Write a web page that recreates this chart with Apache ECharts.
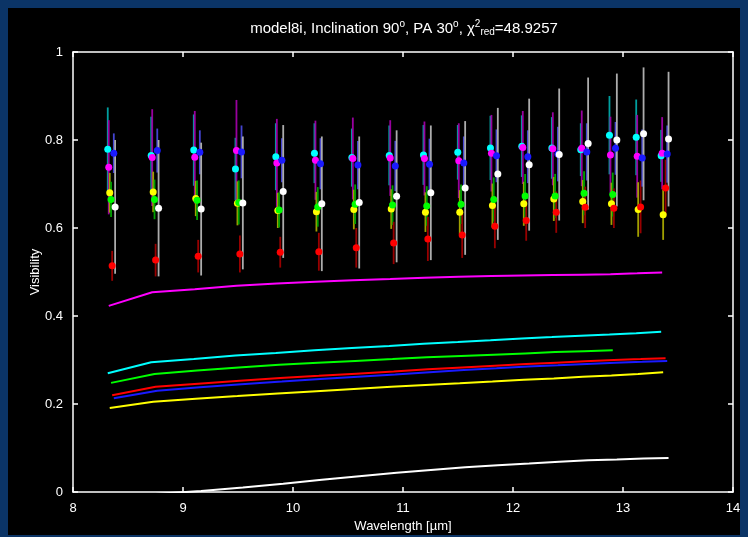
<!DOCTYPE html>
<html>
<head>
<meta charset="utf-8">
<script src="https://cdn.jsdelivr.net/npm/echarts@6/dist/echarts.min.js"></script>
<style>
  html, body { margin: 0; padding: 0; background: #0b3466; width: 748px; height: 537px; overflow: hidden; }
  #c { position: absolute; left: 8px; top: 8px; width: 732px; height: 527px; background: #000; }
</style>
</head>
<body>
<div id="c"></div>
<script>
// ---- data ----
const wavelengths = [8.316, 8.711, 9.098, 9.477, 9.844, 10.195, 10.535, 10.875, 11.186, 11.498, 11.795, 12.080, 12.353, 12.616, 12.877, 13.120, 13.347];
const xTicks = [8, 9, 10, 11, 12, 13, 14];
const yTicks = [0, 0.2, 0.4, 0.6, 0.8, 1];

// per-baseline wavelength offsets (plot staggering, in µm)
const offCyan = 0, offMagenta = 0.009, offYellow = 0.018, offGreen = 0.03, offRed = 0.04, offBlue = 0.055, offWhite = 0.067;

const visCyan    = [0.779, 0.765, 0.777, 0.734, 0.762, 0.770, 0.760, 0.765, 0.766, 0.772, 0.782, 0.786, 0.782, 0.778, 0.811, 0.806, 0.764];
const errCyan    = [0.095, 0.088, 0.081, 0.071, 0.076, 0.068, 0.066, 0.068, 0.068, 0.062, 0.073, 0.070, 0.070, 0.060, 0.089, 0.086, 0.059];
const visMagenta = [0.738, 0.760, 0.761, 0.776, 0.748, 0.754, 0.758, 0.759, 0.758, 0.753, 0.770, 0.783, 0.780, 0.781, 0.766, 0.763, 0.770];
const errMagenta = [0.107, 0.110, 0.105, 0.115, 0.100, 0.090, 0.093, 0.086, 0.084, 0.085, 0.087, 0.083, 0.083, 0.086, 0.087, 0.094, 0.082];
const visBlue    = [0.770, 0.776, 0.772, 0.773, 0.754, 0.746, 0.743, 0.741, 0.745, 0.748, 0.764, 0.762, 0.768, 0.773, 0.781, 0.759, 0.768];
const errBlue    = [0.045, 0.050, 0.050, 0.060, 0.050, 0.058, 0.055, 0.057, 0.058, 0.060, 0.060, 0.060, 0.062, 0.065, 0.060, 0.065, 0.065];
const visWhite   = [0.648, 0.645, 0.643, 0.657, 0.683, 0.655, 0.658, 0.672, 0.680, 0.691, 0.723, 0.744, 0.767, 0.792, 0.800, 0.814, 0.802];
const errWhite   = [0.152, 0.155, 0.151, 0.151, 0.151, 0.153, 0.150, 0.150, 0.153, 0.152, 0.150, 0.150, 0.150, 0.150, 0.151, 0.151, 0.153];
const visYellow  = [0.680, 0.682, 0.667, 0.656, 0.640, 0.637, 0.642, 0.643, 0.636, 0.636, 0.651, 0.655, 0.666, 0.660, 0.655, 0.642, 0.630];
const errYellow  = [0.045, 0.046, 0.040, 0.050, 0.040, 0.045, 0.045, 0.045, 0.045, 0.050, 0.050, 0.050, 0.050, 0.049, 0.048, 0.062, 0.057];
const visGreen   = [0.665, 0.665, 0.663, 0.658, 0.641, 0.648, 0.654, 0.652, 0.650, 0.654, 0.665, 0.673, 0.673, 0.679, 0.676];
const errGreen   = [0.040, 0.045, 0.045, 0.050, 0.040, 0.045, 0.045, 0.045, 0.045, 0.045, 0.050, 0.050, 0.050, 0.050, 0.050];
const visRed     = [0.514, 0.527, 0.536, 0.541, 0.545, 0.546, 0.555, 0.566, 0.575, 0.584, 0.604, 0.617, 0.636, 0.647, 0.645, 0.648, 0.691];
const errRed     = [0.034, 0.037, 0.037, 0.042, 0.035, 0.043, 0.045, 0.048, 0.050, 0.052, 0.050, 0.046, 0.047, 0.047, 0.045, 0.060, 0.064];

const modelMagenta = [0.423, 0.454, 0.461, 0.469, 0.474, 0.478, 0.481, 0.484, 0.487, 0.489, 0.491, 0.492, 0.493, 0.494, 0.495, 0.497, 0.499];
const modelCyan    = [0.270, 0.295, 0.302, 0.310, 0.316, 0.322, 0.327, 0.332, 0.337, 0.341, 0.345, 0.349, 0.352, 0.355, 0.358, 0.361, 0.364];
const modelGreen   = [0.248, 0.268, 0.276, 0.283, 0.289, 0.294, 0.298, 0.302, 0.306, 0.309, 0.312, 0.315, 0.318, 0.320, 0.322];
const modelRed     = [0.220, 0.239, 0.246, 0.253, 0.259, 0.264, 0.269, 0.274, 0.279, 0.283, 0.287, 0.291, 0.294, 0.297, 0.300, 0.302, 0.304];
const modelBlue    = [0.213, 0.230, 0.238, 0.245, 0.251, 0.257, 0.262, 0.267, 0.272, 0.277, 0.281, 0.285, 0.288, 0.291, 0.294, 0.296, 0.298];
const modelYellow  = [0.191, 0.205, 0.212, 0.218, 0.224, 0.229, 0.234, 0.239, 0.243, 0.247, 0.251, 0.255, 0.258, 0.262, 0.265, 0.268, 0.272];
const modelWhite   = [-0.012, -0.004, 0.002, 0.010, 0.019, 0.028, 0.036, 0.044, 0.050, 0.056, 0.061, 0.065, 0.069, 0.072, 0.074, 0.076, 0.077];

// ---- build ----
const baselines = [
  { name: 'cyan',    color: '#00ffff', bar: '#00a0a0', vis: visCyan,    err: errCyan,    model: modelCyan,    off: offCyan },
  { name: 'magenta', color: '#ff00ff', bar: '#98009e', vis: visMagenta, err: errMagenta, model: modelMagenta, off: offMagenta },
  { name: 'yellow',  color: '#ffff00', bar: '#a0a000', vis: visYellow,  err: errYellow,  model: modelYellow,  off: offYellow },
  { name: 'green',   color: '#00ff00', bar: '#00a000', vis: visGreen,   err: errGreen,   model: modelGreen,   off: offGreen },
  { name: 'red',     color: '#ff0000', bar: '#980000', vis: visRed,     err: errRed,     model: modelRed,     off: offRed },
  { name: 'blue',    color: '#1a1aff', bar: '#4444d0', vis: visBlue,    err: errBlue,    model: modelBlue,    off: offBlue },
  { name: 'white',   color: '#ffffff', bar: '#acacac', vis: visWhite,   err: errWhite,   model: modelWhite,   off: offWhite }
];

const FONT = 'Liberation Sans, Arial, sans-serif';
const series = [];

baselines.forEach(b => {
  series.push({
    type: 'line', name: b.name + ' model', z: 2,
    data: b.model.map((v, i) => [wavelengths[i] + b.off, v]),
    showSymbol: false, symbol: 'none', silent: true,
    lineStyle: { color: b.color, width: 2 }
  });
});
baselines.forEach(b => {
  series.push({
    type: 'custom', name: b.name + ' err', z: 3, silent: true,
    data: b.vis.map((v, i) => [wavelengths[i] + b.off, v - b.err[i], v + b.err[i]]),
    renderItem: (params, api) => {
      const p1 = api.coord([api.value(0), api.value(1)]);
      const p2 = api.coord([api.value(0), api.value(2)]);
      return { type: 'line', shape: { x1: p1[0], y1: p1[1], x2: p2[0], y2: p2[1] },
               style: { stroke: b.bar, lineWidth: 1.8 } };
    }
  });
});
baselines.forEach(b => {
  series.push({
    type: 'scatter', name: b.name, z: 4, silent: true,
    data: b.vis.map((v, i) => [wavelengths[i] + b.off, v]),
    symbol: 'circle', symbolSize: 7,
    itemStyle: { color: b.color, opacity: 1 }
  });
});

const axisCommon = {
  type: 'value',
  axisLine: { show: true, onZero: false, lineStyle: { color: '#ffffff', width: 1.5 } },
  axisTick: { show: true, inside: true, length: 5, lineStyle: { color: '#ffffff', width: 1.5 } },
  splitLine: { show: false }
};

const chart = echarts.init(document.getElementById('c'), null, { renderer: 'canvas' });
chart.setOption({
  backgroundColor: '#000000',
  animation: false,
  title: {
    text: 'model8i, Inclination 90{sup|o}, PA 30{sup|o}, χ{sup|2}{sub|red}=48.9257',
    left: 391, top: 6, textAlign: 'center',
    textStyle: {
      color: '#ffffff', fontSize: 15, fontWeight: 'normal', fontFamily: FONT,
      rich: {
        sup: { color: '#ffffff', fontSize: 10, fontFamily: FONT, padding: [0, 0, 10, 0] },
        sub: { color: '#ffffff', fontSize: 10, fontFamily: FONT, padding: [7, 0, 0, 0] }
      }
    }
  },
  grid: { left: 65, top: 44, right: 7, bottom: 43, containLabel: false, outerBoundsMode: 'none' },
  xAxis: [
    Object.assign({}, axisCommon, {
      min: xTicks[0], max: xTicks[xTicks.length - 1], interval: 1, position: 'bottom',
      axisLabel: { color: '#ffffff', fontSize: 13, fontFamily: FONT, margin: 10 },
      name: 'Wavelength [µm]', nameLocation: 'middle', nameGap: 28, nameMoveOverlap: false,
      nameTextStyle: { color: '#ffffff', fontSize: 13, fontFamily: FONT }
    }),
    Object.assign({}, axisCommon, {
      min: xTicks[0], max: xTicks[xTicks.length - 1], interval: 1, position: 'top',
      axisLabel: { show: false }
    })
  ],
  yAxis: [
    Object.assign({}, axisCommon, {
      min: yTicks[0], max: yTicks[yTicks.length - 1], interval: 0.2, position: 'left',
      axisLabel: { color: '#ffffff', fontSize: 13, fontFamily: FONT, margin: 10,
                   formatter: v => String(Math.round(v * 10) / 10) },
      name: 'Visibility', nameLocation: 'middle', nameGap: 31, nameRotate: 90, nameMoveOverlap: false,
      nameTextStyle: { color: '#ffffff', fontSize: 13, fontFamily: FONT }
    }),
    Object.assign({}, axisCommon, {
      min: yTicks[0], max: yTicks[yTicks.length - 1], interval: 0.2, position: 'right',
      axisLabel: { show: false }
    })
  ],
  series: series
});
</script>
</body>
</html>
